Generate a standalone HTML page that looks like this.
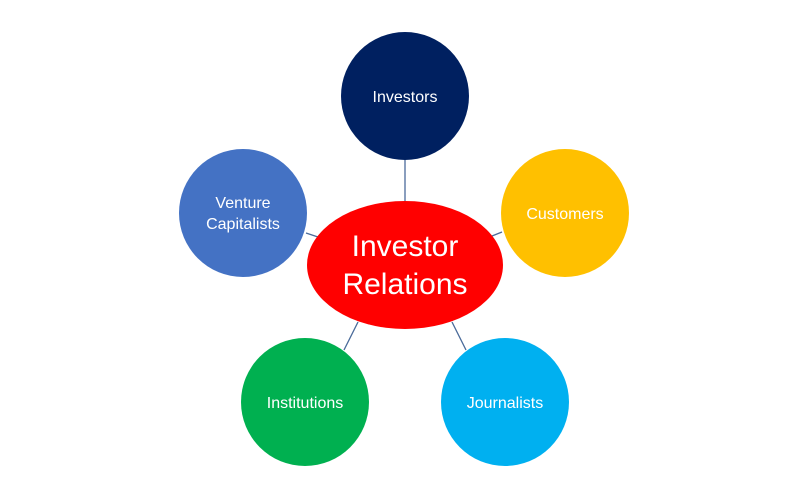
<!DOCTYPE html>
<html><head><meta charset="utf-8"><style>
html,body{margin:0;padding:0;background:#fff;}
svg{display:block;}
text{font-family:"Liberation Sans",sans-serif;fill:#fff;text-anchor:middle;}
</style></head><body>
<svg width="800" height="480" viewBox="0 0 800 480">
<g stroke="#4a6a9a" stroke-width="1.3">
<line x1="405" y1="160" x2="405" y2="202"/>
<line x1="502" y1="232" x2="492" y2="236"/>
<line x1="306" y1="233" x2="318" y2="237"/>
<line x1="344" y1="350" x2="358" y2="322"/>
<line x1="466" y1="350" x2="452" y2="322"/>
</g>
<circle cx="405" cy="96" r="64" fill="#002060"/>
<circle cx="565" cy="213" r="64" fill="#FFC000"/>
<circle cx="243" cy="213" r="64" fill="#4472C4"/>
<circle cx="305" cy="402" r="64" fill="#00B050"/>
<circle cx="505" cy="402" r="64" fill="#00B0F0"/>
<ellipse cx="405" cy="265" rx="98" ry="64" fill="#FF0000"/>
<text x="405" y="102" font-size="16">Investors</text>
<text x="565" y="219" font-size="16">Customers</text>
<text x="243" y="208" font-size="16">Venture</text>
<text x="243" y="229" font-size="16">Capitalists</text>
<text x="305" y="408" font-size="16">Institutions</text>
<text x="505" y="408" font-size="16">Journalists</text>
<text x="405" y="256" font-size="30">Investor</text>
<text x="405" y="294" font-size="30">Relations</text>
</svg>
</body></html>
